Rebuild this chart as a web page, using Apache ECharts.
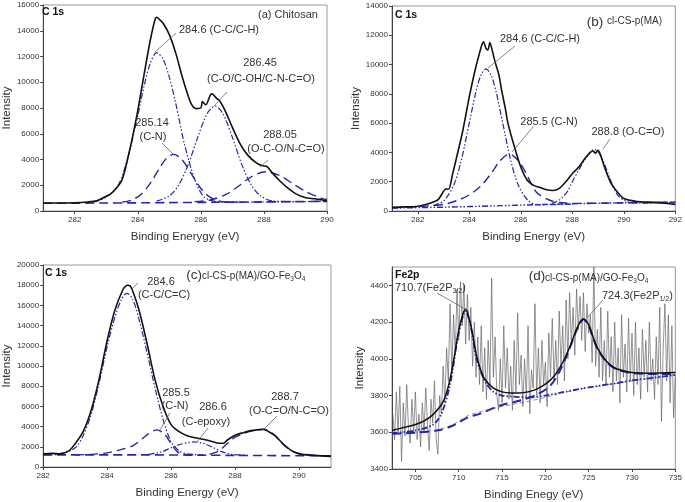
<!DOCTYPE html>
<html><head><meta charset="utf-8">
<script src="https://cdn.jsdelivr.net/npm/echarts@6/dist/echarts.min.js"></script>
<style>html,body{margin:0;padding:0;background:#fff}#c{width:685px;height:502px}</style>
</head><body><div id="c"></div>
<script>
// ---------- Panel (a) Chitosan C 1s ----------
const aXTicks = [282, 284, 286, 288, 290];
const aYTicks = [0, 2000, 4000, 6000, 8000, 10000, 12000, 14000, 16000];
const aRaw = [[281,620],[281.5,620],[282,640],[282.4,700],[282.7,800],[283,1150],[283.15,1350],[283.3,1700],[283.5,2400],[283.75,4800],[284,7800],[284.2,10600],[284.4,13300],[284.55,14900],[284.6,15050],[284.7,14850],[284.8,14600],[285,13700],[285.2,12300],[285.4,10500],[285.55,9300],[285.7,8300],[285.85,7950],[286.0,8000],[286.05,8500],[286.15,8250],[286.3,9000],[286.35,9100],[286.5,8750],[286.6,8550],[286.75,7900],[287,6500],[287.25,5200],[287.5,4300],[287.75,3750],[287.9,3550],[288,3500],[288.1,3450],[288.25,3000],[288.5,2350],[288.75,1800],[289,1350],[289.3,1050],[289.6,950],[289.75,900],[290,800]];
const aBase = [[281,600],[283,620],[285,650],[287,690],[289,730],[290,750]];
const aC1 = [[282.6,700],[283,1060],[283.4,2100],[283.7,4300],[284,7400],[284.2,9700],[284.4,11500],[284.6,12300],[284.8,11800],[285,10400],[285.2,8400],[285.5,5000],[285.8,2500],[286.1,1100],[286.5,720],[287,670],[288,700],[290,750]];
const aC2 = [[283.5,690],[283.8,840],[284.1,1280],[284.4,2170],[284.7,3370],[284.9,4060],[285.14,4400],[285.4,4000],[285.7,2880],[286,1750],[286.3,1060],[286.7,720],[287.2,690]];
const aC3 = [[284.6,770],[285,1165],[285.3,2020],[285.6,3600],[285.9,5720],[286.2,7570],[286.45,8150],[286.7,7570],[287,5720],[287.3,3600],[287.6,2020],[287.9,1165],[288.3,770],[289,730]];
const aC4 = [[285.8,725],[286.3,855],[286.8,1290],[287.2,1940],[287.6,2660],[288.05,3050],[288.5,2750],[288.9,2150],[289.3,1550],[289.8,1000],[290,900]];

// ---------- Panel (b) cl-CS-p(MA) C 1s ----------
const bXTicks = [282, 284, 286, 288, 290, 292];
const bYTicks = [0, 2000, 4000, 6000, 8000, 10000, 12000, 14000];
const bRaw = [[281,250],[281.5,280],[282,330],[282.5,550],[282.8,800],[283.1,1500],[283.2,1500],[283.35,2500],[283.5,3600],[283.75,5500],[284,7800],[284.25,9800],[284.4,10800],[284.5,11400],[284.55,11550],[284.65,11100],[284.72,11000],[284.8,11500],[284.9,10900],[285,10200],[285.15,9300],[285.25,8300],[285.4,7000],[285.5,6000],[285.75,4400],[286,3000],[286.25,2100],[286.5,1750],[286.75,1600],[287,1450],[287.25,1400],[287.5,1550],[287.75,2000],[288,2550],[288.25,3000],[288.5,3600],[288.7,4000],[288.8,4100],[288.9,3950],[289,4150],[289.1,3800],[289.25,3000],[289.5,1900],[289.75,1300],[290,850],[290.5,650],[291,600],[291.5,550],[292,450]];
const bBase = [[281,200],[283,260],[285,350],[287,450],[289,530],[292,600]];
const bC1 = [[282.6,365],[283,680],[283.4,1780],[283.7,3530],[284,6000],[284.25,8080],[284.45,9270],[284.65,9700],[284.85,9270],[285.05,8080],[285.3,6000],[285.6,3530],[285.9,1780],[286.3,680],[286.7,420],[288,470]];
const bC2 = [[281,220],[282,300],[283,450],[283.5,700],[284,1100],[284.5,1800],[284.9,2700],[285.2,3450],[285.55,3900],[285.9,3450],[286.2,2600],[286.6,1300],[287.1,750],[287.6,560],[288,520],[290,560],[292,600]];
const bC3 = [[287.2,520],[287.5,750],[287.8,1300],[288,2000],[288.25,2800],[288.5,3550],[288.7,4050],[288.85,4200],[289,4050],[289.2,3400],[289.4,2500],[289.6,1600],[289.8,1000],[290.1,650],[290.5,530],[291,540],[292,580]];

// ---------- Panel (c) cl-CS-p(MA)/GO-Fe3O4 C 1s ----------
const cXTicks = [282, 284, 286, 288, 290];
const cYTicks = [0, 2000, 4000, 6000, 8000, 10000, 12000, 14000, 16000, 18000, 20000];
const cRaw = [[282,1300],[282.3,1350],[282.5,1300],[282.8,1600],[283,2300],[283.25,3500],[283.5,5600],[283.75,8700],[284,12500],[284.25,15600],[284.5,17600],[284.6,17950],[284.65,18000],[284.75,17800],[285,15500],[285.25,12200],[285.5,8600],[285.75,6000],[286,4200],[286.25,3500],[286.5,3100],[286.75,2900],[287,2750],[287.25,2550],[287.5,2350],[287.65,2350],[287.75,2650],[288,3150],[288.25,3400],[288.5,3600],[288.75,3700],[288.9,3750],[289,3600],[289.25,3100],[289.5,2300],[289.75,1650],[290,1300],[290.5,1150],[291,1050]];
const cBase = [[282,1200],[285,1200],[288,1150],[291,1100]];
const cC1 = [[282,1200],[282.5,1250],[283,1900],[283.25,3100],[283.5,5200],[283.75,8300],[284,11900],[284.25,14900],[284.45,16600],[284.62,17200],[284.8,16600],[285,14600],[285.25,11300],[285.5,7800],[285.75,4700],[286,2500],[286.25,1600],[286.5,1300],[287,1200]];
const cC2 = [[283,1200],[283.5,1250],[284,1400],[284.4,1700],[284.8,2100],[285.1,2800],[285.3,3300],[285.55,3680],[285.8,3250],[286,2300],[286.2,1500],[286.4,1250],[287,1200]];
const cC3 = [[285.3,1250],[285.7,1500],[286,1900],[286.3,2250],[286.7,2480],[287,2350],[287.3,1950],[287.6,1500],[287.9,1250],[288.3,1180]];
const cC4 = [[287.2,1250],[287.5,1600],[287.75,2300],[288,2950],[288.25,3300],[288.5,3550],[288.85,3700],[289.1,3500],[289.3,2950],[289.5,2250],[289.75,1650],[290,1350],[290.5,1150],[291,1100]];

// ---------- Panel (d) Fe2p ----------
const dXTicks = [705, 710, 715, 720, 725, 730, 735];
const dYTicks = [3400, 3600, 3800, 4000, 4200, 4400];
const dRaw = [[702.4,3700],[702.6,3560],[702.8,3820],[703,3600],[703.2,3850],[703.4,3440],[703.6,3760],[703.8,3580],[704,3860],[704.2,3620],[704.4,3540],[704.6,3780],[704.8,3600],[705,3820],[705.2,3560],[705.4,3700],[705.6,3520],[705.8,3760],[706,3600],[706.2,3840],[706.4,3640],[706.6,3500],[706.8,3780],[707,3650],[707.2,3880],[707.4,3560],[707.6,3480],[707.8,3800],[708,3700],[708.2,3960],[708.4,3760],[708.6,4060],[708.8,3880],[709,4300],[709.2,3920],[709.4,4240],[709.6,4020],[709.8,4380],[710,4100],[710.2,4420],[710.4,4180],[710.6,4400],[710.8,4080],[711,4350],[711.2,4100],[711.4,4280],[711.6,3960],[711.8,4200],[712,3900],[712.2,4120],[712.4,3860],[712.6,4180],[712.8,3820],[713,4060],[713.2,3780],[713.4,4100],[713.6,3860],[713.8,4440],[714,3900],[714.2,4120],[714.4,3800],[714.6,3720],[714.8,4000],[715,3760],[715.2,4180],[715.4,3840],[715.6,4060],[715.8,3780],[716,3960],[716.2,3720],[716.4,4100],[716.6,3820],[716.8,4250],[717,3860],[717.2,4020],[717.4,3740],[717.6,4000],[717.8,3780],[718,4180],[718.2,3700],[718.4,3940],[718.6,3840],[718.8,4300],[719,3800],[719.2,4060],[719.4,3760],[719.6,4100],[719.8,3860],[720,3980],[720.2,3740],[720.4,4140],[720.6,3900],[720.8,4220],[721,3880],[721.2,4100],[721.4,3860],[721.6,4260],[721.8,3960],[722,4180],[722.2,3880],[722.4,4320],[722.6,4000],[722.8,4360],[723,4080],[723.2,4280],[723.4,4020],[723.6,4380],[723.8,4160],[724,4340],[724.2,4100],[724.4,4360],[724.6,4040],[724.8,4300],[725,4140],[725.2,4240],[725.4,3980],[725.6,4500],[725.8,3960],[726,4160],[726.2,3900],[726.4,4280],[726.6,3880],[726.8,4100],[727,3860],[727.2,4260],[727.4,3900],[727.6,4120],[727.8,3820],[728,4200],[728.2,3880],[728.4,4060],[728.6,3760],[728.8,4240],[729,3900],[729.2,4080],[729.4,3820],[729.6,4220],[729.8,3880],[730,4140],[730.2,3800],[730.4,4200],[730.6,3860],[730.8,4060],[731,3780],[731.2,4160],[731.4,3900],[731.6,4100],[731.8,3820],[732,4200],[732.2,3880],[732.4,4000],[732.6,3780],[732.8,4120],[733,3860],[733.2,4280],[733.4,3660],[733.6,4060],[733.8,4300],[734,3880],[734.2,4240],[734.4,3760],[734.6,4180],[734.8,3680],[735,3900]];
const dFit = [[702.3,3610],[704,3630],[705,3642],[706,3662],[707,3695],[708,3750],[708.5,3800],[709,3890],[709.5,4015],[710,4155],[710.5,4245],[710.8,4270],[711,4255],[711.5,4160],[712,4030],[712.5,3945],[713,3890],[714,3840],[715,3820],[716,3814],[717,3814],[718,3820],[719,3835],[720,3862],[721,3905],[722,3980],[723,4085],[723.5,4150],[724,4200],[724.4,4217],[725,4185],[725.5,4120],[726,4060],[727,3990],[728,3950],[729,3935],[730,3925],[732,3922],[735,3925]];
const dBg = [[702.3,3590],[705,3600],[707.5,3612],[709,3635],[710,3660],[711,3690],[712,3705],[714,3730],[716,3750],[718,3768],[720,3790],[722,3815],[724,3835],[726,3850],[728,3865],[730,3880],[732,3893],[735,3910]];
const dP1 = [[702.3,3595],[705,3610],[707,3640],[708,3700],[709,3860],[710,4140],[710.8,4260],[711.5,4150],[712,4010],[713,3880],[714,3820],[715,3800],[716,3795],[718,3790],[720,3800],[722,3818],[724,3836],[726,3852],[728,3866],[730,3882],[735,3912]];
const dP2 = [[702.3,3592],[705,3598],[707.8,3612],[709,3630],[710.1,3656],[711,3680],[712.4,3700],[714.8,3746],[717.1,3773],[719,3805],[720.5,3850],[721.5,3920],[722.5,4020],[723.3,4120],[724,4195],[724.4,4215],[725,4180],[725.5,4115],[726,4055],[727,3985],[728,3948],[729,3932],[730,3922],[732,3918],[735,3918]];

// ---------- styling ----------
const FONT = 'Liberation Sans, Arial, sans-serif';
const BLUE = '#2626b0';
const DASHDOT = [6, 2, 1.5, 2, 1.5, 2];
const LONGDASH = [9, 5];
const TXT = '#333';

const grids = [
  {left: 39, top: 5, width: 288, height: 206},
  {left: 392, top: 6, width: 286, height: 205},
  {left: 42, top: 265, width: 289, height: 202},
  {left: 392, top: 267, width: 286, height: 204}
];
const xNames = ['Binding Enerygy (eV)', 'Binding Energy (eV)', 'Binding Energy (eV)', 'Binding Enegy (eV)'];
const xRanges = [[281, 290], [281, 292], [282, 291], [702.3, 735]];
const yRanges = [[0, 16000], [0, 14000], [0, 20000], [3400, 4500]];
const xTicks = [aXTicks, bXTicks, cXTicks, dXTicks];
const yTicks = [aYTicks, bYTicks, cYTicks, dYTicks];
const plain = v => String(v);

const xAxis = grids.map((g, i) => ({
  type: 'value', gridIndex: i, min: xRanges[i][0], max: xRanges[i][1],
  name: xNames[i], nameLocation: 'middle', nameGap: 20,
  nameTextStyle: {fontSize: 11.5, color: TXT, fontFamily: FONT},
  axisLine: {show: true, lineStyle: {color: '#444', width: 1}},
  axisTick: {show: true, length: 3, lineStyle: {color: '#444'}, customValues: xTicks[i]},
  axisLabel: {fontSize: 8, color: TXT, fontFamily: FONT, margin: 5, customValues: xTicks[i], formatter: plain},
  splitLine: {show: false}
}));
const yAxis = grids.map((g, i) => ({
  type: 'value', gridIndex: i, min: yRanges[i][0], max: yRanges[i][1],
  name: 'Intensity', nameLocation: 'middle', nameGap: 26,
  nameTextStyle: {fontSize: 11.5, color: TXT, fontFamily: FONT},
  axisLine: {show: true, lineStyle: {color: '#444', width: 1}},
  axisTick: {show: true, length: 3, lineStyle: {color: '#444'}, customValues: yTicks[i]},
  axisLabel: {fontSize: 8, color: TXT, fontFamily: FONT, margin: 4, customValues: yTicks[i], formatter: plain},
  splitLine: {show: false}
}));

function ln(data, idx, color, width, type, z) {
  return {
    type: 'line', xAxisIndex: idx, yAxisIndex: idx, data: data,
    showSymbol: false, symbol: 'none', smooth: 0.3, z: z || 2,
    lineStyle: {color: color, width: width, type: type || 'solid'},
    silent: true, animation: false
  };
}

const series = [
  ln(aBase, 0, BLUE, 1.6, LONGDASH), ln(aC1, 0, BLUE, 1.2, DASHDOT), ln(aC2, 0, BLUE, 1.4, LONGDASH),
  ln(aC3, 0, BLUE, 1.2, DASHDOT), ln(aC4, 0, BLUE, 1.4, LONGDASH), ln(aRaw, 0, '#111', 1.6, 'solid', 3),
  ln(bBase, 1, BLUE, 1.4, DASHDOT), ln(bC1, 1, BLUE, 1.2, DASHDOT), ln(bC2, 1, BLUE, 1.4, LONGDASH),
  ln(bC3, 1, BLUE, 1.2, DASHDOT), ln(bRaw, 1, '#111', 1.6, 'solid', 3),
  ln(cBase, 2, BLUE, 1.6, LONGDASH), ln(cC1, 2, BLUE, 1.2, DASHDOT), ln(cC2, 2, BLUE, 1.4, LONGDASH),
  ln(cC3, 2, BLUE, 1.2, DASHDOT), ln(cC4, 2, BLUE, 1.4, LONGDASH), ln(cRaw, 2, '#111', 1.6, 'solid', 3),
  Object.assign(ln(dRaw, 3, '#666', 0.7, 'solid', 1), {smooth: false}),
  ln(dBg, 3, '#777', 0.8, [4, 3]), ln(dP1, 3, BLUE, 1.8, DASHDOT), ln(dP2, 3, BLUE, 2, LONGDASH),
  ln(dFit, 3, '#111', 1.5, 'solid', 4)
];

function txt(x, y, text, opt) {
  opt = opt || {};
  return {
    type: 'text', x: x, y: y, z: 10, silent: true,
    style: Object.assign({text: text, fill: TXT, fontSize: 11, fontFamily: FONT,
      align: 'center', verticalAlign: 'middle'}, opt)
  };
}
function lead(x1, y1, x2, y2) {
  return {type: 'line', z: 10, silent: true, shape: {x1: x1, y1: y1, x2: x2, y2: y2},
    style: {stroke: '#666', lineWidth: 0.8}};
}
const bold = {fontWeight: 'bold', fontSize: 10.5, fill: '#111', align: 'left'};
const subRich = {
  a: {fontSize: 10, fontFamily: FONT, fill: TXT},
  s: {fontSize: 6.5, fontFamily: FONT, fill: TXT, padding: [6, 0, 0, 0]},
  b: {fontSize: 11, fontFamily: FONT, fill: TXT},
  t: {fontSize: 7, fontFamily: FONT, fill: TXT, padding: [7, 0, 0, 0]}
};

const graphic = [
  // (a)
  txt(42, 12, 'C 1s', bold),
  txt(288, 15, '(a) Chitosan'),
  txt(219, 30, '284.6 (C-C/C-H)'),
  txt(260, 63, '286.45'),
  txt(261, 79, '(C-O/C-OH/C-N-C=O)'),
  txt(152, 123, '285.14'),
  txt(153, 137, '(C-N)'),
  txt(280, 135, '288.05'),
  txt(286, 149, '(O-C-O/N-C=O)'),
  lead(176, 33, 155, 52), lead(227, 92, 214, 106), lead(162, 143, 173, 154), lead(268, 160, 260, 167),
  // (b)
  txt(395, 15, 'C 1s', bold),
  txt(595, 22, '(b)', {fontSize: 13.5}),
  txt(607, 21, 'cl-CS-p(MA)', {fontSize: 10, align: 'left'}),
  txt(540, 39, '284.6 (C-C/C-H)'),
  txt(549, 122, '285.5 (C-N)'),
  txt(628, 132, '288.8 (O-C=O)'),
  lead(515, 46, 488, 68), lead(533, 127, 512, 152), lead(610, 139, 603, 149),
  // (c)
  txt(45, 273, 'C 1s', bold),
  txt(194, 275, '(c)', {fontSize: 13.5}),
  txt(202, 276, '{a|cl-CS-p(MA)/GO-Fe}{s|3}{a|O}{s|4}', {align: 'left', rich: subRich}),
  txt(161, 282, '284.6'),
  txt(164, 295, '(C-C/C=C)'),
  txt(176, 393, '285.5'),
  txt(175, 406, '(C-N)'),
  txt(213, 407, '286.6'),
  txt(206, 422, '(C-epoxy)'),
  txt(285, 397, '288.7'),
  txt(289, 411, '(O-C=O/N-C=O)'),
  lead(138, 283, 131, 290), lead(170, 413, 160, 430), lead(208, 428, 197, 442), lead(277, 416, 263, 430),
  // (d)
  txt(395, 275, 'Fe2p', bold),
  txt(395, 288, '{b|710.7(Fe2P}{t|3/2}{b|)}', {align: 'left', rich: subRich}),
  txt(537, 276, '(d)', {fontSize: 13.5}),
  txt(545, 278, '{a|cl-CS-p(MA)/GO-Fe}{s|3}{a|O}{s|4}', {align: 'left', rich: subRich}),
  txt(602, 296, '{b|724.3(Fe2P}{t|1/2}{b|)}', {align: 'left', rich: subRich}),
  lead(437, 293, 467, 310), lead(603, 300, 587, 318)
];

const chart = echarts.init(document.getElementById('c'), null, {renderer: 'canvas'});
chart.setOption({
  backgroundColor: '#fff',
  animation: false,
  grid: grids.map(g => Object.assign({show: true, borderColor: '#999', borderWidth: 1, containLabel: false}, g)),
  xAxis: xAxis,
  yAxis: yAxis,
  series: series,
  graphic: graphic
});
</script></body></html>
